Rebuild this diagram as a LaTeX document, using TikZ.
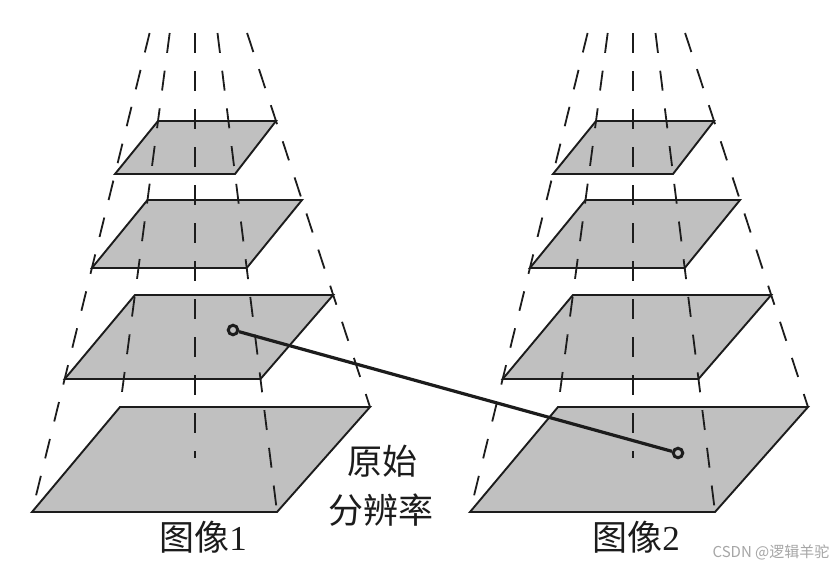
\documentclass[tikz,border=0pt]{standalone}
\usepackage{fontspec}
\setmainfont{Liberation Serif}
\newfontfamily\cjk{Noto Sans CJK SC}
\definecolor{layergray}{RGB}{192,192,192}
\definecolor{ink}{RGB}{28,28,28}
\begin{document}
\begin{tikzpicture}[x=1pt,y=-1pt,
  layer/.style={fill=layergray, draw=ink, line width=1.9pt, line join=miter},
  ray/.style={draw=ink, line width=1.8pt, dash pattern=on 20pt off 18pt},
  dot/.style={circle, draw=ink, line width=3pt, fill=layergray, inner sep=0pt, minimum size=9.5pt},
  link/.style={draw=ink, line width=3.2pt},
  lab/.style={font=\cjk\fontsize{35}{42}\selectfont, inner sep=0pt, text=ink},
  wmark/.style={font=\cjk\fontsize{15}{18}\selectfont, inner sep=0pt, text=black!35}]
\useasboundingbox (0,0) rectangle (837,570);
\fill[white] (0,0) rectangle (837,570);
\foreach \dx/\p in {0/A,438/B}{
  \begin{scope}[xshift=\dx pt]
    % layers, top to bottom
    \filldraw[layer] (158,121) -- (276,121) -- (235,174) -- (115,174) -- cycle;
    \filldraw[layer] (147.5,200) -- (302,200) -- (246.7,268) -- (91.9,268) -- cycle;
    \filldraw[layer] (134.9,295) -- (333.2,295) -- (260.5,379) -- (64.7,379) -- cycle;
    \filldraw[layer] (120,407) -- (370,407) -- (277,512) -- (32,512) -- cycle;
    % rays
    \coordinate (\p t1) at (149.6,33);  \coordinate (\p b1) at (32,512);
    \coordinate (\p t2) at (169.7,33);  \coordinate (\p b2) at (120,407);
    \coordinate (\p t3) at (195,33);    \coordinate (\p b3) at (195,458);
    \coordinate (\p t4) at (217.5,33);  \coordinate (\p b4) at (277,512);
    \coordinate (\p t5) at (247.1,33);  \coordinate (\p b5) at (370,407);
    \foreach \i in {1,...,5}{
      \draw[ray] (\p t\i) -- (\p b\i);
    }
  \end{scope}
}
\node[dot] (p1) at (233,330) {};
\node[dot] (p2) at (678,453) {};
\draw[link] (p1) -- (p2);
\node[lab] (orig) at (382,461) {原始};
\node[lab] (res) at (381,510) {分辨率};
\node[lab] (img1) at (203,537) {图像{\rmfamily 1}};
\node[lab] (img2) at (636,537) {图像{\rmfamily 2}};
\node[wmark] (wm) at (771,552) {CSDN @逻辑羊驼};
\end{tikzpicture}
\end{document}
